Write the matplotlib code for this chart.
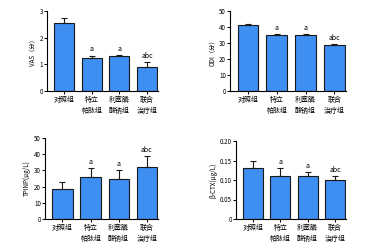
import numpy as np
import matplotlib
matplotlib.use("Agg")
import matplotlib.pyplot as plt

plt.rcParams['font.family'] = ['Noto Sans CJK SC', 'DejaVu Sans']

groups = ['对照组', '特立\n帕肽组', '利塞膦\n酸钠组', '联合\n治疗组']

vas_mean = [2.55, 1.25, 1.30, 0.90]
vas_err = [0.20, 0.08, 0.05, 0.18]
odi_mean = [41.5, 35.0, 34.8, 28.7]
odi_err = [0.6, 0.6, 0.7, 0.5]
tpinp_mean = [18.5, 26.0, 25.0, 32.3]
tpinp_err = [4.2, 5.2, 5.2, 6.5]
ctx_mean = [0.13, 0.11, 0.11, 0.10]
ctx_err = [0.02, 0.02, 0.01, 0.01]
sig = ['', 'a', 'a', 'abc']

panels = [
    (vas_mean, vas_err, 'VAS（分）', (0, 3), [0, 1, 2, 3], '{:.0f}'),
    (odi_mean, odi_err, 'ODI（分）', (0, 50), [0, 10, 20, 30, 40, 50], '{:.0f}'),
    (tpinp_mean, tpinp_err, 'TPINP(μg/L)', (0, 50), [0, 10, 20, 30, 40, 50], '{:.0f}'),
    (ctx_mean, ctx_err, 'β-CTX(μg/L)', (0, 0.2), [0, 0.05, 0.10, 0.15, 0.20], '{:.2f}'),
]

# axes boxes in pixels: left, top, right, bottom
boxes = [(47, 11, 158, 91), (230, 11, 346, 91), (45, 138, 158, 219), (236, 141, 346, 219)]

W, H = 374, 244
fig = plt.figure(figsize=(W / 100, H / 100), dpi=100)

for (mean, err, ylab, ylim, ticks, fmt), (l, t, r, b) in zip(panels, boxes):
    ax = fig.add_axes([l / W, 1 - b / H, (r - l) / W, (b - t) / H])
    x = np.arange(len(groups))
    ax.bar(x, mean, width=0.72, color='#3f8ef2', edgecolor='#1a1a1a', linewidth=0.8)
    ax.errorbar(x, mean, yerr=[np.zeros(len(err)), err], fmt='none',
                ecolor='#1a1a1a', elinewidth=0.8, capsize=2.5, capthick=0.8)
    span = ylim[1] - ylim[0]
    for xi, m, e, s in zip(x, mean, err, sig):
        if s:
            ax.text(xi, m + e + span * 0.03, s, ha='center', va='bottom', fontsize=5)
    ax.set_xlim(-0.62, 3.4)
    ax.set_ylim(*ylim)
    ax.set_yticks(ticks)
    ax.set_yticklabels([fmt.format(v) if v != 0 else '0' for v in ticks])
    ax.set_xticks(x)
    ax.set_xticklabels(groups, fontsize=5, linespacing=1.6)
    ax.set_ylabel(ylab, fontsize=4.5, labelpad=2)
    ax.tick_params(axis='y', labelsize=4.5, length=2, width=0.7, pad=1)
    ax.tick_params(axis='x', length=2, width=0.7, pad=1.5)
    for side in ('top', 'right'):
        ax.spines[side].set_visible(False)
    for side in ('left', 'bottom'):
        ax.spines[side].set_linewidth(0.8)

fig.savefig('out.png', dpi=100)
